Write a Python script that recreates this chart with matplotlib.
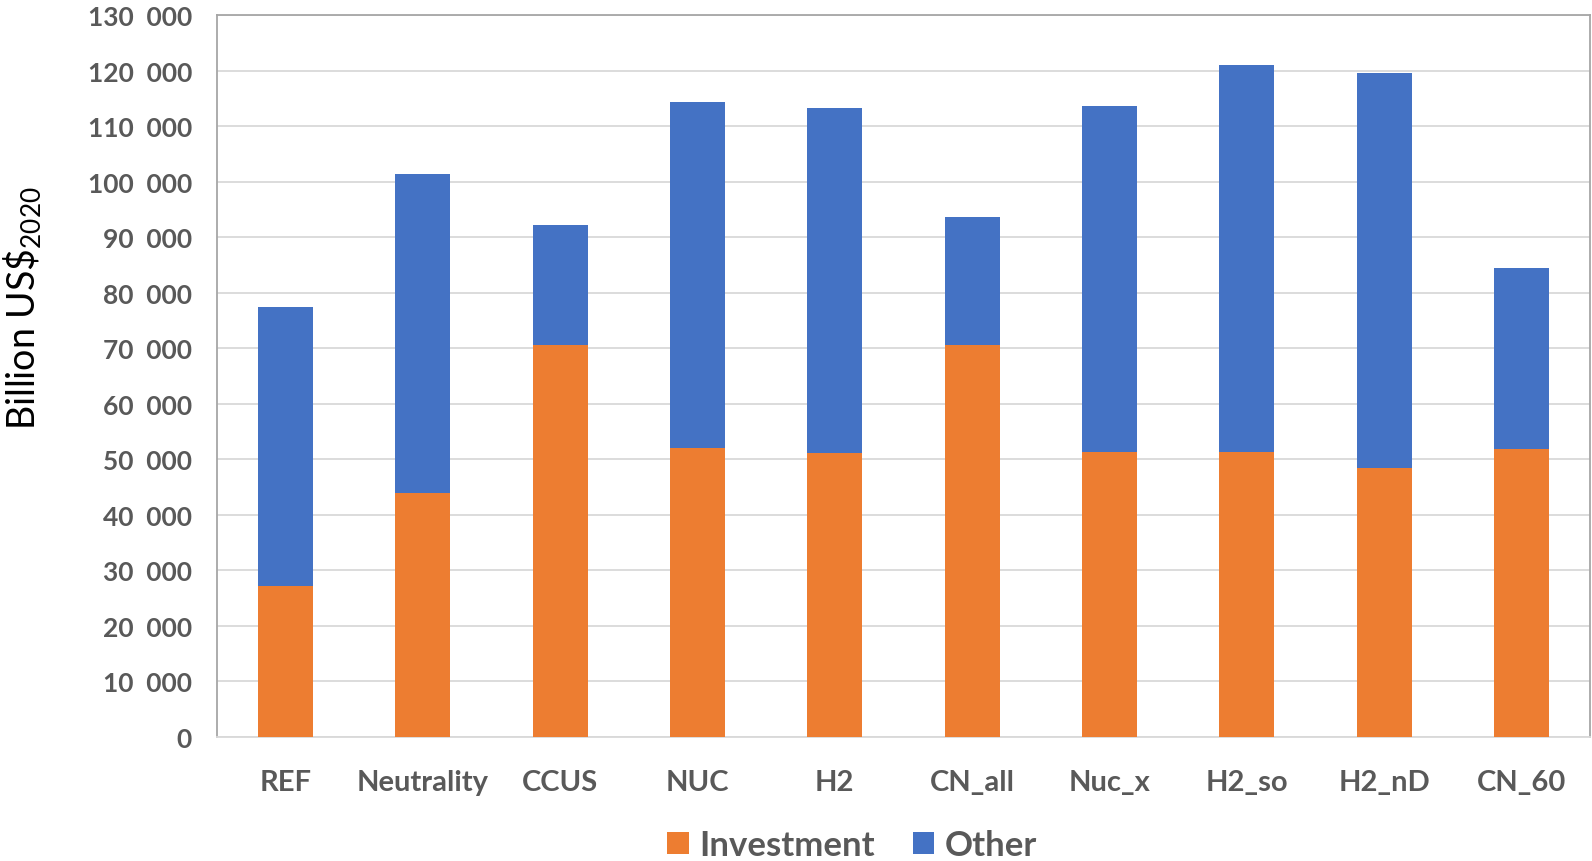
import matplotlib.pyplot as plt
from matplotlib.ticker import MultipleLocator, FuncFormatter
import numpy as np

# scenarios and values (billion US$ 2020)
scenarios = ['REF', 'Neutrality', 'CCUS', 'NUC', 'H2', 'CN_all', 'Nuc_x', 'H2_so', 'H2_nD', 'CN_60']
investment = [27100, 43900, 70500, 52000, 51100, 70500, 51300, 51400, 48500, 51800]
total = [77400, 101400, 92100, 114400, 113300, 93700, 113700, 121000, 119600, 84400]
other = [t - i for t, i in zip(total, investment)]

c_inv = '#ED7D31'
c_oth = '#4472C4'
txt = '#595959'

plt.rcParams['font.family'] = ['Lato', 'DejaVu Sans']

W, H = 1592, 862
fig = plt.figure(figsize=(W/100, H/100), dpi=100)
ax = fig.add_axes([217/W, 1 - 738/H, (1590-217)/W, (738-16)/H])

x = np.arange(len(scenarios))
ax.bar(x, investment, width=0.4, color=c_inv, label='Investment', zorder=3)
ax.bar(x, other, width=0.4, bottom=investment, color=c_oth, label='Other', zorder=3)

ax.set_xlim(-0.5, len(scenarios) - 0.5)
ax.set_ylim(0, 130000)
ax.yaxis.set_major_locator(MultipleLocator(10000))
ax.yaxis.set_major_formatter(FuncFormatter(lambda v, p: '0' if v == 0 else '%d  000' % (v // 1000)))
ax.grid(axis='y', color='#d9d9d9', linewidth=1.3, zorder=0)

ax.set_xticks(x)
ax.set_xticklabels(scenarios)
ax.tick_params(axis='both', length=0, labelcolor=txt)
ax.tick_params(axis='x', pad=23, labelsize=21)
ax.tick_params(axis='y', pad=18, labelsize=19)
for lab in ax.get_xticklabels() + ax.get_yticklabels():
    lab.set_fontweight('bold')

for s in ['left', 'top', 'right']:
    ax.spines[s].set_color('#a6a6a6')
    ax.spines[s].set_linewidth(1.3)
ax.spines['bottom'].set_color('#d9d9d9')
ax.spines['bottom'].set_linewidth(1.3)

fig.text(23/W, 1 - 308/H, r'Billion US\$$_{\mathregular{2020}}$', rotation=90,
         ha='center', va='center', fontsize=27, color='black')

leg = fig.legend(loc='center', bbox_to_anchor=(852/W, 1 - 846/H), ncol=2, frameon=False,
                 prop={'size': 25, 'weight': 'bold'}, handlelength=0.62, handleheight=0.62,
                 handletextpad=0.3, columnspacing=1.1)
for t in leg.get_texts():
    t.set_color(txt)

fig.savefig('out.png', dpi=100)
